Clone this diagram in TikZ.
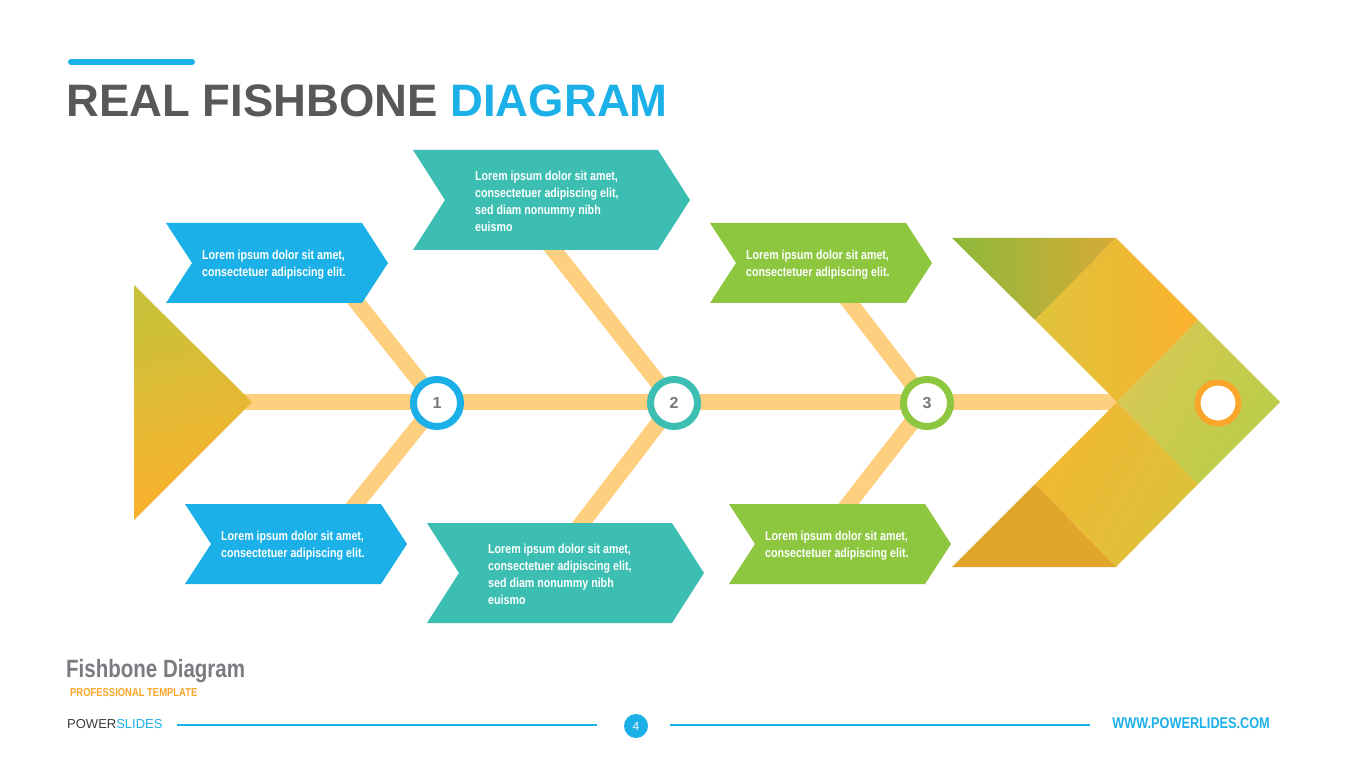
\documentclass[tikz,border=0pt]{standalone}
\usepackage{fontspec}
\setmainfont{Liberation Sans}
\newfontfamily\cond[FakeStretch=0.82]{Liberation Sans}
\definecolor{blue1}{HTML}{1BB0E8}
\definecolor{teal1}{HTML}{3DBEB2}
\definecolor{green1}{HTML}{8DC63F}
\definecolor{spinec}{HTML}{FFCF80}
\definecolor{titlegray}{HTML}{58585A}
\definecolor{numgray}{HTML}{77787B}
\definecolor{footgray}{HTML}{797C80}
\definecolor{orange1}{HTML}{F9A72B}
\definecolor{darkg}{HTML}{3D3D3D}
\definecolor{tailtop}{HTML}{C9C23A}
\definecolor{tailbot}{HTML}{FDB02D}
\definecolor{eyeor}{HTML}{F9A62A}
\definecolor{hA1}{HTML}{8DB93C}
\definecolor{hA2}{HTML}{D6AA36}
\definecolor{hB1}{HTML}{DEC33A}
\definecolor{hB2}{HTML}{FBB22E}
\definecolor{hC1}{HTML}{D8C854}
\definecolor{hC2}{HTML}{B9CE48}
\definecolor{hD1}{HTML}{F2B833}
\definecolor{hD2}{HTML}{DCC23A}
\definecolor{hE}{HTML}{E1A52B}
\pgfdeclarelayer{bg}
\pgfsetlayers{bg,main}
\newcommand{\chevbox}[6]{%
  \fill[#6] (#1,#2) -- ++(#3-#5,0) -- ++(#5,#4/2) -- ++(-#5,#4/2) -- ++(-#3+#5,0) -- ++(#5,-#4/2) -- cycle;}
\begin{document}
\begin{tikzpicture}[x=1pt,y=-1pt,
  bone/.style={draw=spinec, line width=16pt},
  numc/.style={circle, fill=white, line width=7pt, minimum size=47pt, inner sep=0pt,
    text=numgray, font=\bfseries\fontsize{16}{18}\selectfont},
  boxtext/.style={anchor=west, align=left, inner sep=0pt, text=white,
    font=\cond\bfseries\fontsize{13}{17}\selectfont}]
\useasboundingbox (0,0) rectangle (1365,767);

% title
\draw[blue1, line width=6pt, line cap=round] (71,62) coordinate (barL) -- (192,62) coordinate (barR);
\node[anchor=base west, inner sep=0pt, font=\bfseries\fontsize{45.5}{50}\selectfont] (title) at (66,117)
  {\textcolor{titlegray}{REAL FISHBONE }\textcolor{blue1}{DIAGRAM}};

% key points
\coordinate (c1) at (437,403);
\coordinate (c2) at (674,403);
\coordinate (c3) at (927,403);
\coordinate (tail) at (240,402);
\coordinate (headin) at (1120,402);
\coordinate (u1) at (347,290);
\coordinate (d1) at (347,515);
\coordinate (u2) at (542,235);
\coordinate (d2) at (569,540);
\coordinate (u3) at (840,290);
\coordinate (d3) at (840,515);

\begin{pgfonlayer}{bg}
  \fill[white] (0,0) rectangle (1365,767);
  \draw[bone] (tail) -- (headin);
  \draw[bone] (c1) -- (u1);
  \draw[bone] (c1) -- (d1);
  \draw[bone] (c2) -- (u2);
  \draw[bone] (c2) -- (d2);
  \draw[bone] (c3) -- (u3);
  \draw[bone] (c3) -- (d3);
\end{pgfonlayer}

% boxes
\chevbox{166}{223}{222}{80}{26}{blue1}
\chevbox{413}{150}{277}{100}{32}{teal1}
\chevbox{710}{223}{222}{80}{26}{green1}
\chevbox{185}{504}{222}{80}{26}{blue1}
\chevbox{427}{523}{277}{100}{32}{teal1}
\chevbox{729}{504}{222}{80}{26}{green1}

\node[boxtext] (t1) at (202,265) {Lorem ipsum dolor sit amet,\\consectetuer adipiscing elit.};
\node[boxtext] (t2) at (475,201.5) {Lorem ipsum dolor sit amet,\\consectetuer adipiscing elit,\\sed diam nonummy nibh\\euismo};
\node[boxtext] (t3) at (746,265) {Lorem ipsum dolor sit amet,\\consectetuer adipiscing elit.};
\node[boxtext] (t4) at (221,546) {Lorem ipsum dolor sit amet,\\consectetuer adipiscing elit.};
\node[boxtext] (t5) at (488,574.5) {Lorem ipsum dolor sit amet,\\consectetuer adipiscing elit,\\sed diam nonummy nibh\\euismo};
\node[boxtext] (t6) at (765,546) {Lorem ipsum dolor sit amet,\\consectetuer adipiscing elit.};

% circles
\node[numc, draw=blue1] (n1) at (c1) {1};
\node[numc, draw=teal1] (n2) at (c2) {2};
\node[numc, draw=green1] (n3) at (c3) {3};

% tail
\shade[top color=tailtop, bottom color=tailbot, shading angle=15] (134,285) -- (252,402) -- (134,520) -- cycle;

% head
\shade[left color=hA1, right color=hA2] (952,238) -- (1116,238) -- (1035,320) -- cycle;
\shade[left color=hB1, right color=hB2] (1035,320) -- (1116,238) -- (1198,320) -- (1117,402) -- cycle;
\shade[left color=hC1, right color=hC2, shading angle=60] (1117,402) -- (1198,320) -- (1280,402) -- (1198,484) -- cycle;
\shade[left color=hD1, right color=hD2, shading angle=60] (1117,402) -- (1198,484) -- (1116,567) -- (1035,484) -- cycle;
\fill[hE] (1035,484) -- (1116,567) -- (952,567) -- cycle;
\node[circle, draw=eyeor, fill=white, line width=6pt, minimum size=41pt, inner sep=0pt] (eye) at (1218,403) {};

% footer
\node[anchor=base west, inner sep=0pt, text=footgray, font=\cond\bfseries\fontsize{25}{28}\selectfont] (ft) at (66,677) {Fishbone Diagram};
\node[anchor=base west, inner sep=0pt, text=orange1, font=\cond\bfseries\fontsize{11.5}{13}\selectfont] (fp) at (70,696) {PROFESSIONAL TEMPLATE};
\node[anchor=base west, inner sep=0pt, font=\fontsize{13}{15}\selectfont] (ps) at (67,728) {\textcolor{darkg}{POWER}\textcolor{blue1}{SLIDES}};
\node[circle, fill=blue1, minimum size=24pt, inner sep=0pt, text=white, font=\fontsize{12}{14}\selectfont] (pg) at (636,726) {4};
\coordinate (la) at (177,725);
\coordinate (lb) at (597,725);
\coordinate (lc) at (670,725);
\coordinate (ld) at (1090,725);
\draw[blue1, line width=1.2pt] (la) -- (lb);
\draw[blue1, line width=1.2pt] (lc) -- (ld);
\node[anchor=base east, inner sep=0pt, text=blue1, font=\cond\bfseries\fontsize{15.5}{17}\selectfont] (www) at (1270,728) {WWW.POWERLIDES.COM};
\end{tikzpicture}
\end{document}
